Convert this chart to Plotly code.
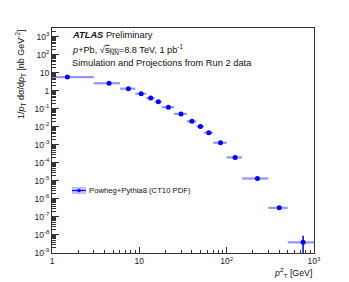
import plotly.graph_objects as go

# Data
bin_lo = [0.0, 3, 6, 9, 12, 15, 18, 25, 35, 45, 55, 70, 100, 150, 300, 500]
bin_hi = [3, 6, 9, 12, 15, 18, 25, 35, 45, 55, 70, 100, 150, 300, 500, 1000]
pt_center = [1.5, 4.5, 7.5, 10.5, 13.5, 16.5, 21.5, 30, 40, 50, 62.5, 85, 125, 225, 400, 750]
xsec = [5.7, 2.6, 1.3, 0.68, 0.39, 0.245, 0.123, 0.052, 0.020, 0.0105, 0.0047,
        0.0013, 2.0e-4, 1.35e-5, 3.2e-7, 3.9e-9]
yerr_up = [0, 0, 0, 0, 0, 0, 0, 0, 0, 0, 0, 0, 0, 0, 0, 5.2e-9]
yerr_dn = [0, 0, 0, 0, 0, 0, 0, 0, 0, 0, 0, 0, 0, 0, 0, 3.6e-9]

y_tickvals = [1e-9, 1e-8, 1e-7, 1e-6, 1e-5, 1e-4, 1e-3, 1e-2, 1e-1, 1, 10, 1e2, 1e3]
y_ticktext = ["10<sup>-9</sup>", "10<sup>-8</sup>", "10<sup>-7</sup>", "10<sup>-6</sup>",
              "10<sup>-5</sup>", "10<sup>-4</sup>", "10<sup>-3</sup>", "10<sup>-2</sup>",
              "10<sup>-1</sup>", "1", "10", "10<sup>2</sup>", "10<sup>3</sup>"]
x_tickvals = [1, 10, 100, 1000]
x_ticktext = ["1", "10", "10<sup>2</sup>", "10<sup>3</sup>"]

x_minor = [m * 10 ** d for d in range(0, 3) for m in range(2, 10)]
y_minor = [m * 10.0 ** d for d in range(-9, 4) for m in range(2, 10)]

# x error bars (bin half widths), first bin clipped at axis start
ex_plus = [h - c for h, c in zip(bin_hi, pt_center)]
ex_minus = [c - max(l, 1e-3) for l, c in zip(bin_lo, pt_center)]

BLUE = "#0000ff"
LIGHT = "rgba(60,60,255,0.55)"
FONT = "Liberation Sans, Arial, sans-serif"

fig = go.Figure()
fig.add_trace(go.Scatter(
    x=pt_center, y=xsec, mode="markers",
    marker=dict(color=BLUE, size=5),
    error_x=dict(type="data", array=ex_plus, arrayminus=ex_minus,
                 color=LIGHT, thickness=2.2, width=0),
    error_y=dict(type="data", array=yerr_up, arrayminus=yerr_dn,
                 color=BLUE, thickness=1.5, width=0),
    showlegend=False,
))

axis_common = dict(
    type="log", showgrid=False, zeroline=False,
    showline=True, linecolor="#333", linewidth=1, mirror=True,
    ticks="inside", tickcolor="#333", tickwidth=1,
    tickfont=dict(family=FONT, size=8.5, color="#222"),
    tickmode="array",
)

fig.update_xaxes(**axis_common, range=[0, 3], tickvals=x_tickvals, ticktext=x_ticktext,
                 ticklen=6,
                 minor=dict(tickmode="array", tickvals=x_minor, ticks="inside",
                            ticklen=3, tickcolor="#333", tickwidth=1))
fig.update_yaxes(**axis_common, range=[-9, 3.48], tickvals=y_tickvals, ticktext=y_ticktext,
                 ticklen=7,
                 minor=dict(tickmode="array", tickvals=y_minor, ticks="inside",
                            ticklen=3.5, tickcolor="#333", tickwidth=1))

# page body has an 8px margin; figure sized so the plot frame lands where the reference has it
W, H = 341, 274
L, R, T, B = 44, 35, 20, 29
PL, PB = 52, 253          # plot left / bottom in screen pixels
pw, ph = W - L - R, H - T - B

def px2x(px):
    return (px - PL) / pw

def py2y(py):
    return (PB - py) / ph

annots = []
annots.append(dict(text="<b><i>ATLAS</i></b> Preliminary", x=px2x(70), y=py2y(35),
                   xanchor="left", yanchor="middle", font=dict(size=9.3, family=FONT, color="#111")))
annots.append(dict(text="<i>p</i>+Pb, √<span style='text-decoration:overline'>s<sub>NN</sub></span>=8.8 TeV, 1 pb<sup>-1</sup>",
                   x=px2x(70), y=py2y(49), xanchor="left", yanchor="middle",
                   font=dict(size=9.2, family=FONT, color="#111")))
annots.append(dict(text="Simulation and Projections from Run 2 data", x=px2x(70), y=py2y(63),
                   xanchor="left", yanchor="middle", font=dict(size=9.3, family=FONT, color="#111")))
annots.append(dict(text="1/<i>p</i><sub>T</sub> dσ/d<i>p</i><sub>T</sub> [nb GeV<sup>-2</sup>]",
                   x=px2x(20), y=py2y(27), textangle=-90, xanchor="center", yanchor="top",
                   font=dict(size=9, family=FONT, color="#111")))
annots.append(dict(text="<i>p</i><sup>Z</sup><sub>T</sub> [GeV]", x=1.0, y=py2y(272),
                   xanchor="right", yanchor="middle", font=dict(size=8.8, family=FONT, color="#111")))
annots.append(dict(text="Powheg+Pythia8 (CT10 PDF)", x=px2x(87), y=py2y(190.5),
                   xanchor="left", yanchor="middle", font=dict(size=7.7, family=FONT, color="#111")))
for a in annots:
    a.update(xref="paper", yref="paper", showarrow=False)

shapes = [
    dict(type="rect", xref="paper", yref="paper", x0=px2x(72), x1=px2x(86), y0=py2y(194), y1=py2y(187),
         fillcolor="rgba(120,120,255,0.45)", line=dict(width=0)),
    dict(type="line", xref="paper", yref="paper", x0=px2x(72), x1=px2x(86), y0=py2y(190.5), y1=py2y(190.5),
         line=dict(color=BLUE, width=1.2)),
    dict(type="circle", xref="paper", yref="paper", x0=px2x(77.5), x1=px2x(80.5), y0=py2y(192), y1=py2y(189),
         fillcolor=BLUE, line=dict(color=BLUE, width=0.5)),
]

fig.update_layout(
    width=W, height=H, margin=dict(l=L, r=R, t=T, b=B),
    paper_bgcolor="white", plot_bgcolor="white",
    annotations=annots, shapes=shapes, showlegend=False,
)

fig.write_html("out.html")
